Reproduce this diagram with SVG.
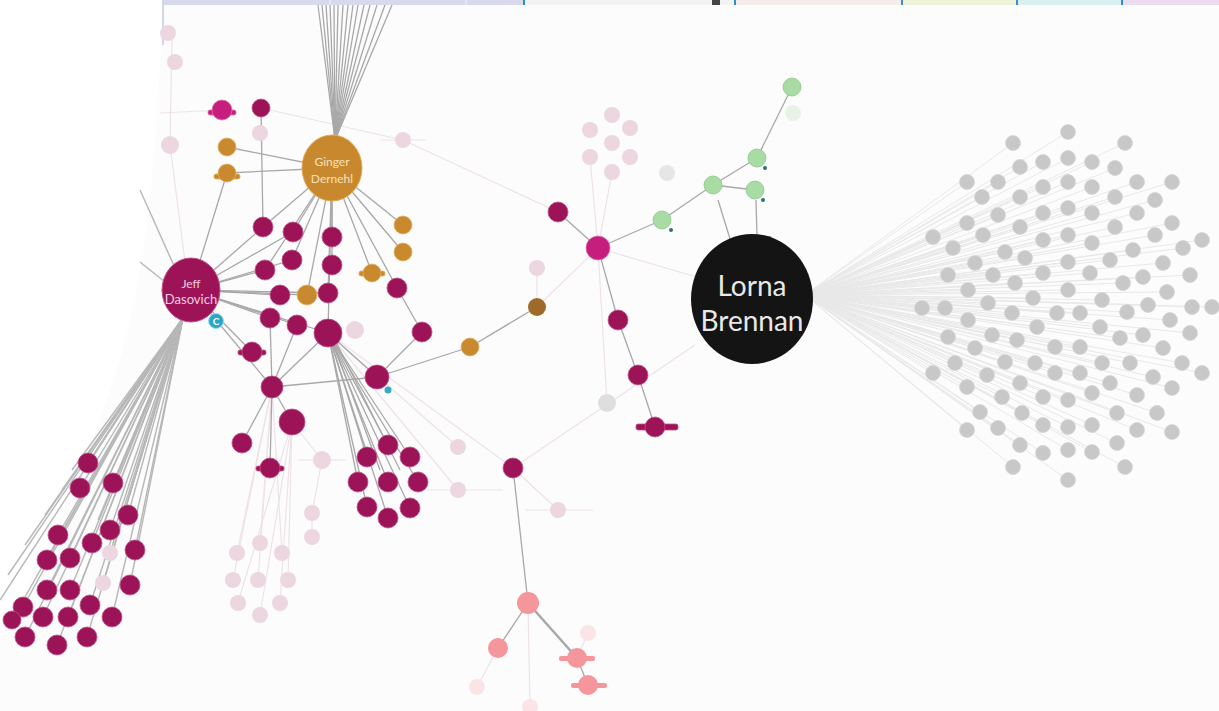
<svg xmlns="http://www.w3.org/2000/svg" width="1219" height="711" viewBox="0 0 1219 711">
<style>
.e{stroke:#a8a8a8;stroke-width:1.3;fill:none}
.el{stroke:#c4c4c4;stroke-width:1;fill:none}
.ef{stroke:#eee2e8;stroke-width:1.2;fill:none}
.eg{stroke:#d2d2d2;stroke-width:1;opacity:.45}
.ej{stroke:#a6a6a6;stroke-width:1.4;opacity:.8}
.m{fill:#9c1457;stroke:#c0508a;stroke-width:.8}
.mg{fill:#c51e7d;stroke:#e070a8;stroke-width:.8}
.o{fill:#c98a2f;stroke:#e0b060;stroke-width:.8}
.p{fill:#ecd6e0}
.pg{fill:#e6e6e6}
.g{fill:#a9dba5;stroke:#8cc888;stroke-width:.8}
.s{fill:#f4969b}
.gr{fill:#c8c8c8;stroke:#d6d6d6;stroke-width:.8}
.t{font-family:Lato,"Liberation Sans",sans-serif;text-anchor:middle}
</style>
<rect x="0" y="0" width="1219" height="711" fill="#fcfcfc"/>
<path d="M0,0 L163,0 C158,120 150,260 120,360 C90,460 40,560 0,640 Z" fill="#ffffff"/>
<g id="topbar">
<rect x="163" y="0" width="360" height="5" fill="#d9d9ec"/>
<rect x="329" y="0" width="2" height="5" fill="#e6e6f2"/>
<rect x="465" y="0" width="2" height="5" fill="#e6e6f2"/>
<rect x="523" y="0" width="2" height="5" fill="#2c8fc9"/>
<rect x="525" y="0" width="209" height="5" fill="#f2f2f2"/>
<rect x="712" y="0" width="8" height="5" fill="#444"/>
<rect x="734" y="0" width="2" height="5" fill="#2c8fc9"/>
<rect x="736" y="0" width="165" height="5" fill="#f6ece9"/>
<rect x="901" y="0" width="2" height="5" fill="#3c8fc0"/>
<rect x="903" y="0" width="113" height="5" fill="#eef3d8"/>
<rect x="1016" y="0" width="2" height="5" fill="#3c8fc0"/>
<rect x="1018" y="0" width="103" height="5" fill="#d8f0ef"/>
<rect x="1121" y="0" width="2" height="5" fill="#2c8fc9"/>
<rect x="1123" y="0" width="96" height="5" fill="#ecdcef"/>
<rect x="162" y="0" width="2" height="45" fill="#d4d4ea"/>
</g>
<g id="connectors">
<g class="eg">
<line x1="805" y1="295" x2="1068" y2="132"/><line x1="805" y1="295" x2="1013" y2="143"/><line x1="805" y1="295" x2="1125" y2="143"/>
<line x1="805" y1="295" x2="1020" y2="167"/><line x1="805" y1="295" x2="1043" y2="162"/><line x1="805" y1="295" x2="1068" y2="158"/><line x1="805" y1="295" x2="1092" y2="162"/><line x1="805" y1="295" x2="1115" y2="168"/>
<line x1="805" y1="295" x2="967" y2="182"/><line x1="805" y1="295" x2="998" y2="182"/><line x1="805" y1="295" x2="1043" y2="187"/><line x1="805" y1="295" x2="1068" y2="182"/><line x1="805" y1="295" x2="1092" y2="187"/><line x1="805" y1="295" x2="1137" y2="182"/><line x1="805" y1="295" x2="1172" y2="182"/>
<line x1="805" y1="295" x2="982" y2="197"/><line x1="805" y1="295" x2="1020" y2="197"/><line x1="805" y1="295" x2="1115" y2="197"/><line x1="805" y1="295" x2="1155" y2="200"/>
<line x1="805" y1="295" x2="998" y2="215"/><line x1="805" y1="295" x2="1043" y2="213"/><line x1="805" y1="295" x2="1068" y2="208"/><line x1="805" y1="295" x2="1092" y2="213"/><line x1="805" y1="295" x2="1137" y2="213"/>
<line x1="805" y1="295" x2="967" y2="223"/><line x1="805" y1="295" x2="1020" y2="227"/><line x1="805" y1="295" x2="1115" y2="227"/><line x1="805" y1="295" x2="1172" y2="223"/>
<line x1="805" y1="295" x2="933" y2="237"/><line x1="805" y1="295" x2="983" y2="235"/><line x1="805" y1="295" x2="1043" y2="240"/><line x1="805" y1="295" x2="1068" y2="235"/><line x1="805" y1="295" x2="1092" y2="243"/><line x1="805" y1="295" x2="1155" y2="235"/><line x1="805" y1="295" x2="1202" y2="240"/>
<line x1="805" y1="295" x2="953" y2="248"/><line x1="805" y1="295" x2="1005" y2="252"/><line x1="805" y1="295" x2="1025" y2="258"/><line x1="805" y1="295" x2="1133" y2="250"/><line x1="805" y1="295" x2="1183" y2="248"/>
<line x1="805" y1="295" x2="975" y2="263"/><line x1="805" y1="295" x2="1068" y2="262"/><line x1="805" y1="295" x2="1110" y2="260"/><line x1="805" y1="295" x2="1163" y2="263"/>
<line x1="805" y1="295" x2="948" y2="275"/><line x1="805" y1="295" x2="993" y2="275"/><line x1="805" y1="295" x2="1043" y2="273"/><line x1="805" y1="295" x2="1090" y2="273"/><line x1="805" y1="295" x2="1143" y2="277"/><line x1="805" y1="295" x2="1190" y2="275"/>
<line x1="805" y1="295" x2="968" y2="290"/><line x1="805" y1="295" x2="1015" y2="283"/><line x1="805" y1="295" x2="1068" y2="290"/><line x1="805" y1="295" x2="1123" y2="283"/><line x1="805" y1="295" x2="1167" y2="292"/>
<line x1="805" y1="295" x2="1033" y2="298"/><line x1="805" y1="295" x2="1102" y2="300"/>
<line x1="805" y1="295" x2="922" y2="308"/><line x1="805" y1="295" x2="945" y2="308"/><line x1="805" y1="295" x2="988" y2="303"/><line x1="805" y1="295" x2="1012" y2="313"/><line x1="805" y1="295" x2="1057" y2="313"/><line x1="805" y1="295" x2="1080" y2="313"/><line x1="805" y1="295" x2="1127" y2="312"/><line x1="805" y1="295" x2="1148" y2="305"/><line x1="805" y1="295" x2="1192" y2="307"/><line x1="805" y1="295" x2="1212" y2="307"/>
<line x1="805" y1="295" x2="968" y2="320"/><line x1="805" y1="295" x2="1037" y2="327"/><line x1="805" y1="295" x2="1100" y2="327"/><line x1="805" y1="295" x2="1170" y2="320"/>
<line x1="805" y1="295" x2="948" y2="337"/><line x1="805" y1="295" x2="992" y2="335"/><line x1="805" y1="295" x2="1017" y2="340"/><line x1="805" y1="295" x2="1055" y2="347"/><line x1="805" y1="295" x2="1080" y2="347"/><line x1="805" y1="295" x2="1120" y2="338"/><line x1="805" y1="295" x2="1143" y2="335"/><line x1="805" y1="295" x2="1190" y2="333"/>
<line x1="805" y1="295" x2="975" y2="348"/><line x1="805" y1="295" x2="1163" y2="348"/>
<line x1="805" y1="295" x2="955" y2="363"/><line x1="805" y1="295" x2="1005" y2="362"/><line x1="805" y1="295" x2="1035" y2="363"/><line x1="805" y1="295" x2="1102" y2="363"/><line x1="805" y1="295" x2="1130" y2="363"/><line x1="805" y1="295" x2="1182" y2="363"/>
<line x1="805" y1="295" x2="933" y2="373"/><line x1="805" y1="295" x2="987" y2="375"/><line x1="805" y1="295" x2="1055" y2="373"/><line x1="805" y1="295" x2="1080" y2="373"/><line x1="805" y1="295" x2="1153" y2="377"/><line x1="805" y1="295" x2="1202" y2="373"/>
<line x1="805" y1="295" x2="967" y2="387"/><line x1="805" y1="295" x2="1020" y2="383"/><line x1="805" y1="295" x2="1110" y2="383"/><line x1="805" y1="295" x2="1172" y2="388"/>
<line x1="805" y1="295" x2="1002" y2="397"/><line x1="805" y1="295" x2="1043" y2="397"/><line x1="805" y1="295" x2="1068" y2="400"/><line x1="805" y1="295" x2="1092" y2="393"/><line x1="805" y1="295" x2="1137" y2="395"/>
<line x1="805" y1="295" x2="980" y2="412"/><line x1="805" y1="295" x2="1022" y2="413"/><line x1="805" y1="295" x2="1117" y2="413"/><line x1="805" y1="295" x2="1157" y2="413"/>
<line x1="805" y1="295" x2="967" y2="430"/><line x1="805" y1="295" x2="998" y2="428"/><line x1="805" y1="295" x2="1043" y2="425"/><line x1="805" y1="295" x2="1068" y2="427"/><line x1="805" y1="295" x2="1092" y2="425"/><line x1="805" y1="295" x2="1137" y2="430"/><line x1="805" y1="295" x2="1172" y2="432"/>
<line x1="805" y1="295" x2="1020" y2="445"/><line x1="805" y1="295" x2="1043" y2="453"/><line x1="805" y1="295" x2="1068" y2="450"/><line x1="805" y1="295" x2="1092" y2="452"/><line x1="805" y1="295" x2="1117" y2="443"/>
<line x1="805" y1="295" x2="1013" y2="467"/><line x1="805" y1="295" x2="1125" y2="467"/><line x1="805" y1="295" x2="1068" y2="480"/>
</g>
<g class="ef">
<line x1="160" y1="113" x2="222" y2="110"/>
<line x1="261" y1="108" x2="403" y2="140"/>
<line x1="403" y1="140" x2="558" y2="212"/>
<line x1="172" y1="40" x2="170" y2="145"/>
<line x1="170" y1="145" x2="185" y2="262"/>
<line x1="598" y1="248" x2="590" y2="157"/>
<line x1="598" y1="248" x2="612" y2="172"/>
<line x1="598" y1="248" x2="700" y2="278"/>
<line x1="598" y1="248" x2="537" y2="307"/>
<line x1="537" y1="307" x2="537" y2="268"/>
<line x1="513" y1="468" x2="695" y2="345"/>
<line x1="513" y1="468" x2="558" y2="510"/>
<line x1="525" y1="510" x2="593" y2="510"/>
<line x1="427" y1="490" x2="503" y2="490"/>
<line x1="328" y1="333" x2="513" y2="468"/>
<line x1="328" y1="333" x2="458" y2="447"/>
<line x1="328" y1="333" x2="458" y2="490"/>
<line x1="528" y1="603" x2="530" y2="707"/>
<line x1="498" y1="648" x2="477" y2="687"/>
<line x1="577" y1="658" x2="588" y2="633"/>
<line x1="272" y1="387" x2="237" y2="553"/><line x1="272" y1="387" x2="260" y2="543"/><line x1="272" y1="387" x2="282" y2="553"/>
<line x1="272" y1="387" x2="233" y2="580"/><line x1="272" y1="387" x2="258" y2="580"/><line x1="292" y1="422" x2="288" y2="580"/>
<line x1="292" y1="422" x2="238" y2="603"/><line x1="292" y1="422" x2="260" y2="615"/><line x1="292" y1="422" x2="280" y2="603"/>
<line x1="292" y1="422" x2="322" y2="460"/><line x1="322" y1="460" x2="312" y2="513"/><line x1="312" y1="513" x2="312" y2="537"/>
<line x1="298" y1="460" x2="346" y2="460"/>
<line x1="380" y1="140" x2="426" y2="140"/>
<line x1="607" y1="403" x2="598" y2="248"/>
</g>
<g class="e">
<line x1="335" y1="140" x2="318" y2="5"/><line x1="335" y1="140" x2="322" y2="5"/><line x1="335" y1="140" x2="326" y2="5"/><line x1="335" y1="140" x2="330" y2="5"/><line x1="335" y1="140" x2="334" y2="5"/><line x1="335" y1="140" x2="338" y2="5"/><line x1="335" y1="140" x2="343" y2="5"/><line x1="335" y1="140" x2="348" y2="5"/><line x1="335" y1="140" x2="353" y2="5"/><line x1="335" y1="140" x2="358" y2="5"/><line x1="335" y1="140" x2="364" y2="5"/><line x1="335" y1="140" x2="370" y2="5"/><line x1="335" y1="140" x2="377" y2="5"/><line x1="335" y1="140" x2="385" y2="5"/><line x1="335" y1="140" x2="392" y2="5"/>
</g>
<g class="ej">
<line x1="183" y1="318" x2="88" y2="463"/><line x1="183" y1="318" x2="80" y2="488"/><line x1="183" y1="318" x2="113" y2="483"/><line x1="183" y1="318" x2="128" y2="515"/><line x1="183" y1="318" x2="110" y2="530"/><line x1="183" y1="318" x2="92" y2="543"/><line x1="183" y1="318" x2="58" y2="535"/><line x1="183" y1="318" x2="135" y2="550"/><line x1="183" y1="318" x2="70" y2="558"/><line x1="183" y1="318" x2="47" y2="560"/><line x1="183" y1="318" x2="47" y2="590"/><line x1="183" y1="318" x2="70" y2="590"/><line x1="183" y1="318" x2="130" y2="585"/><line x1="183" y1="318" x2="23" y2="607"/><line x1="183" y1="318" x2="43" y2="617"/><line x1="183" y1="318" x2="68" y2="617"/><line x1="183" y1="318" x2="90" y2="605"/><line x1="183" y1="318" x2="112" y2="617"/><line x1="183" y1="318" x2="25" y2="637"/><line x1="183" y1="318" x2="57" y2="645"/><line x1="183" y1="318" x2="87" y2="637"/><line x1="183" y1="318" x2="12" y2="620"/>
<line x1="183" y1="318" x2="0" y2="600"/><line x1="183" y1="318" x2="8" y2="575"/><line x1="183" y1="318" x2="25" y2="545"/><line x1="183" y1="318" x2="45" y2="515"/><line x1="183" y1="318" x2="103" y2="583"/><line x1="183" y1="318" x2="110" y2="553"/><line x1="183" y1="318" x2="98" y2="520"/><line x1="183" y1="318" x2="62" y2="490"/><line x1="183" y1="318" x2="72" y2="470"/><line x1="183" y1="318" x2="100" y2="445"/><line x1="183" y1="318" x2="120" y2="470"/>
<line x1="175" y1="268" x2="140" y2="190"/><line x1="165" y1="282" x2="140" y2="262"/>
</g>
<g class="e">
<line x1="332" y1="168" x2="227" y2="147"/><line x1="332" y1="168" x2="227" y2="173"/>
<line x1="332" y1="168" x2="293" y2="232"/><line x1="332" y1="168" x2="332" y2="237"/><line x1="332" y1="168" x2="292" y2="260"/><line x1="332" y1="168" x2="332" y2="265"/><line x1="332" y1="168" x2="372" y2="273"/><line x1="332" y1="168" x2="403" y2="225"/><line x1="332" y1="168" x2="403" y2="252"/><line x1="332" y1="168" x2="397" y2="288"/><line x1="332" y1="168" x2="328" y2="293"/><line x1="332" y1="168" x2="307" y2="295"/><line x1="332" y1="168" x2="265" y2="270"/><line x1="332" y1="168" x2="328" y2="333"/><line x1="332" y1="168" x2="263" y2="227"/>
<line x1="191" y1="290" x2="263" y2="227"/><line x1="191" y1="290" x2="293" y2="232"/><line x1="191" y1="290" x2="265" y2="270"/><line x1="191" y1="290" x2="292" y2="260"/><line x1="191" y1="290" x2="280" y2="295"/><line x1="191" y1="290" x2="307" y2="295"/><line x1="191" y1="290" x2="328" y2="293"/><line x1="191" y1="290" x2="270" y2="318"/><line x1="191" y1="290" x2="297" y2="325"/><line x1="191" y1="290" x2="328" y2="333"/><line x1="191" y1="290" x2="252" y2="352"/><line x1="191" y1="290" x2="272" y2="387"/><line x1="191" y1="290" x2="227" y2="173"/>
<line x1="261" y1="108" x2="263" y2="227"/>
<line x1="270" y1="318" x2="272" y2="387"/><line x1="297" y1="325" x2="272" y2="387"/><line x1="328" y1="333" x2="272" y2="387"/><line x1="328" y1="333" x2="377" y2="377"/><line x1="272" y1="387" x2="377" y2="377"/>
<line x1="272" y1="387" x2="242" y2="443"/><line x1="272" y1="387" x2="270" y2="468"/><line x1="272" y1="387" x2="292" y2="422"/>
<line x1="328" y1="333" x2="388" y2="445"/><line x1="328" y1="333" x2="367" y2="457"/><line x1="328" y1="333" x2="410" y2="457"/><line x1="328" y1="333" x2="358" y2="482"/><line x1="328" y1="333" x2="388" y2="482"/><line x1="328" y1="333" x2="418" y2="482"/><line x1="328" y1="333" x2="367" y2="507"/><line x1="328" y1="333" x2="388" y2="518"/><line x1="328" y1="333" x2="410" y2="508"/><line x1="335" y1="340" x2="400" y2="470"/><line x1="332" y1="340" x2="380" y2="470"/>
<line x1="377" y1="377" x2="422" y2="332"/><line x1="422" y1="332" x2="397" y2="288"/>
<line x1="377" y1="377" x2="470" y2="347"/><line x1="470" y1="347" x2="537" y2="307"/>
<line x1="598" y1="248" x2="558" y2="212"/><line x1="598" y1="248" x2="662" y2="220"/><line x1="662" y1="220" x2="713" y2="185"/><line x1="713" y1="185" x2="757" y2="158"/><line x1="757" y1="158" x2="792" y2="87"/><line x1="713" y1="185" x2="755" y2="190"/><line x1="718" y1="200" x2="731" y2="242"/><line x1="756" y1="200" x2="757" y2="237"/>
<line x1="598" y1="248" x2="618" y2="320"/><line x1="618" y1="320" x2="638" y2="375"/><line x1="638" y1="375" x2="655" y2="427"/>
<line x1="513" y1="468" x2="528" y2="603"/><line x1="528" y1="603" x2="498" y2="648"/><line x1="528" y1="603" x2="577" y2="658" stroke-width="2.5"/><line x1="577" y1="658" x2="588" y2="685"/>
</g>
</g>
<g id="grayCluster">
<g id="gn1"><circle class="gr" cx="1068" cy="132" r="7.5"/></g>
<g id="gn2"><circle class="gr" cx="1013" cy="143" r="7.5"/></g><g id="gn3"><circle class="gr" cx="1125" cy="143" r="7.5"/></g>
<g id="gn4"><circle class="gr" cx="1020" cy="167" r="7.5"/></g><g id="gn5"><circle class="gr" cx="1043" cy="162" r="7.5"/></g><g id="gn6"><circle class="gr" cx="1068" cy="158" r="7.5"/></g><g id="gn7"><circle class="gr" cx="1092" cy="162" r="7.5"/></g><g id="gn8"><circle class="gr" cx="1115" cy="168" r="7.5"/></g>
<g id="gn9"><circle class="gr" cx="967" cy="182" r="7.5"/></g><g id="gn10"><circle class="gr" cx="998" cy="182" r="7.5"/></g><g id="gn11"><circle class="gr" cx="1043" cy="187" r="7.5"/></g><g id="gn12"><circle class="gr" cx="1068" cy="182" r="7.5"/></g><g id="gn13"><circle class="gr" cx="1092" cy="187" r="7.5"/></g><g id="gn14"><circle class="gr" cx="1137" cy="182" r="7.5"/></g><g id="gn15"><circle class="gr" cx="1172" cy="182" r="7.5"/></g>
<g id="gn16"><circle class="gr" cx="982" cy="197" r="7.5"/></g><g id="gn17"><circle class="gr" cx="1020" cy="197" r="7.5"/></g><g id="gn18"><circle class="gr" cx="1115" cy="197" r="7.5"/></g><g id="gn19"><circle class="gr" cx="1155" cy="200" r="7.5"/></g>
<g id="gn20"><circle class="gr" cx="998" cy="215" r="7.5"/></g><g id="gn21"><circle class="gr" cx="1043" cy="213" r="7.5"/></g><g id="gn22"><circle class="gr" cx="1068" cy="208" r="7.5"/></g><g id="gn23"><circle class="gr" cx="1092" cy="213" r="7.5"/></g><g id="gn24"><circle class="gr" cx="1137" cy="213" r="7.5"/></g>
<g id="gn25"><circle class="gr" cx="967" cy="223" r="7.5"/></g><g id="gn26"><circle class="gr" cx="1020" cy="227" r="7.5"/></g><g id="gn27"><circle class="gr" cx="1115" cy="227" r="7.5"/></g><g id="gn28"><circle class="gr" cx="1172" cy="223" r="7.5"/></g>
<g id="gn29"><circle class="gr" cx="933" cy="237" r="7.5"/></g><g id="gn30"><circle class="gr" cx="983" cy="235" r="7.5"/></g><g id="gn31"><circle class="gr" cx="1043" cy="240" r="7.5"/></g><g id="gn32"><circle class="gr" cx="1068" cy="235" r="7.5"/></g><g id="gn33"><circle class="gr" cx="1092" cy="243" r="7.5"/></g><g id="gn34"><circle class="gr" cx="1155" cy="235" r="7.5"/></g><g id="gn35"><circle class="gr" cx="1202" cy="240" r="7.5"/></g>
<g id="gn36"><circle class="gr" cx="953" cy="248" r="7.5"/></g><g id="gn37"><circle class="gr" cx="1005" cy="252" r="7.5"/></g><g id="gn38"><circle class="gr" cx="1025" cy="258" r="7.5"/></g><g id="gn39"><circle class="gr" cx="1133" cy="250" r="7.5"/></g><g id="gn40"><circle class="gr" cx="1183" cy="248" r="7.5"/></g>
<g id="gn41"><circle class="gr" cx="975" cy="263" r="7.5"/></g><g id="gn42"><circle class="gr" cx="1068" cy="262" r="7.5"/></g><g id="gn43"><circle class="gr" cx="1110" cy="260" r="7.5"/></g><g id="gn44"><circle class="gr" cx="1163" cy="263" r="7.5"/></g>
<g id="gn45"><circle class="gr" cx="948" cy="275" r="7.5"/></g><g id="gn46"><circle class="gr" cx="993" cy="275" r="7.5"/></g><g id="gn47"><circle class="gr" cx="1043" cy="273" r="7.5"/></g><g id="gn48"><circle class="gr" cx="1090" cy="273" r="7.5"/></g><g id="gn49"><circle class="gr" cx="1143" cy="277" r="7.5"/></g><g id="gn50"><circle class="gr" cx="1190" cy="275" r="7.5"/></g>
<g id="gn51"><circle class="gr" cx="968" cy="290" r="7.5"/></g><g id="gn52"><circle class="gr" cx="1015" cy="283" r="7.5"/></g><g id="gn53"><circle class="gr" cx="1068" cy="290" r="7.5"/></g><g id="gn54"><circle class="gr" cx="1123" cy="283" r="7.5"/></g><g id="gn55"><circle class="gr" cx="1167" cy="292" r="7.5"/></g>
<g id="gn56"><circle class="gr" cx="1033" cy="298" r="7.5"/></g><g id="gn57"><circle class="gr" cx="1102" cy="300" r="7.5"/></g>
<g id="gn58"><circle class="gr" cx="922" cy="308" r="7.5"/></g><g id="gn59"><circle class="gr" cx="945" cy="308" r="7.5"/></g><g id="gn60"><circle class="gr" cx="988" cy="303" r="7.5"/></g><g id="gn61"><circle class="gr" cx="1012" cy="313" r="7.5"/></g><g id="gn62"><circle class="gr" cx="1057" cy="313" r="7.5"/></g><g id="gn63"><circle class="gr" cx="1080" cy="313" r="7.5"/></g><g id="gn64"><circle class="gr" cx="1127" cy="312" r="7.5"/></g><g id="gn65"><circle class="gr" cx="1148" cy="305" r="7.5"/></g><g id="gn66"><circle class="gr" cx="1192" cy="307" r="7.5"/></g><g id="gn67"><circle class="gr" cx="1212" cy="307" r="7.5"/></g>
<g id="gn68"><circle class="gr" cx="968" cy="320" r="7.5"/></g><g id="gn69"><circle class="gr" cx="1037" cy="327" r="7.5"/></g><g id="gn70"><circle class="gr" cx="1100" cy="327" r="7.5"/></g><g id="gn71"><circle class="gr" cx="1170" cy="320" r="7.5"/></g>
<g id="gn72"><circle class="gr" cx="948" cy="337" r="7.5"/></g><g id="gn73"><circle class="gr" cx="992" cy="335" r="7.5"/></g><g id="gn74"><circle class="gr" cx="1017" cy="340" r="7.5"/></g><g id="gn75"><circle class="gr" cx="1055" cy="347" r="7.5"/></g><g id="gn76"><circle class="gr" cx="1080" cy="347" r="7.5"/></g><g id="gn77"><circle class="gr" cx="1120" cy="338" r="7.5"/></g><g id="gn78"><circle class="gr" cx="1143" cy="335" r="7.5"/></g><g id="gn79"><circle class="gr" cx="1190" cy="333" r="7.5"/></g>
<g id="gn80"><circle class="gr" cx="975" cy="348" r="7.5"/></g><g id="gn81"><circle class="gr" cx="1163" cy="348" r="7.5"/></g>
<g id="gn82"><circle class="gr" cx="955" cy="363" r="7.5"/></g><g id="gn83"><circle class="gr" cx="1005" cy="362" r="7.5"/></g><g id="gn84"><circle class="gr" cx="1035" cy="363" r="7.5"/></g><g id="gn85"><circle class="gr" cx="1102" cy="363" r="7.5"/></g><g id="gn86"><circle class="gr" cx="1130" cy="363" r="7.5"/></g><g id="gn87"><circle class="gr" cx="1182" cy="363" r="7.5"/></g>
<g id="gn88"><circle class="gr" cx="933" cy="373" r="7.5"/></g><g id="gn89"><circle class="gr" cx="987" cy="375" r="7.5"/></g><g id="gn90"><circle class="gr" cx="1055" cy="373" r="7.5"/></g><g id="gn91"><circle class="gr" cx="1080" cy="373" r="7.5"/></g><g id="gn92"><circle class="gr" cx="1153" cy="377" r="7.5"/></g><g id="gn93"><circle class="gr" cx="1202" cy="373" r="7.5"/></g>
<g id="gn94"><circle class="gr" cx="967" cy="387" r="7.5"/></g><g id="gn95"><circle class="gr" cx="1020" cy="383" r="7.5"/></g><g id="gn96"><circle class="gr" cx="1110" cy="383" r="7.5"/></g><g id="gn97"><circle class="gr" cx="1172" cy="388" r="7.5"/></g>
<g id="gn98"><circle class="gr" cx="1002" cy="397" r="7.5"/></g><g id="gn99"><circle class="gr" cx="1043" cy="397" r="7.5"/></g><g id="gn100"><circle class="gr" cx="1068" cy="400" r="7.5"/></g><g id="gn101"><circle class="gr" cx="1092" cy="393" r="7.5"/></g><g id="gn102"><circle class="gr" cx="1137" cy="395" r="7.5"/></g>
<g id="gn103"><circle class="gr" cx="980" cy="412" r="7.5"/></g><g id="gn104"><circle class="gr" cx="1022" cy="413" r="7.5"/></g><g id="gn105"><circle class="gr" cx="1117" cy="413" r="7.5"/></g><g id="gn106"><circle class="gr" cx="1157" cy="413" r="7.5"/></g>
<g id="gn107"><circle class="gr" cx="967" cy="430" r="7.5"/></g><g id="gn108"><circle class="gr" cx="998" cy="428" r="7.5"/></g><g id="gn109"><circle class="gr" cx="1043" cy="425" r="7.5"/></g><g id="gn110"><circle class="gr" cx="1068" cy="427" r="7.5"/></g><g id="gn111"><circle class="gr" cx="1092" cy="425" r="7.5"/></g><g id="gn112"><circle class="gr" cx="1137" cy="430" r="7.5"/></g><g id="gn113"><circle class="gr" cx="1172" cy="432" r="7.5"/></g>
<g id="gn114"><circle class="gr" cx="1020" cy="445" r="7.5"/></g><g id="gn115"><circle class="gr" cx="1043" cy="453" r="7.5"/></g><g id="gn116"><circle class="gr" cx="1068" cy="450" r="7.5"/></g><g id="gn117"><circle class="gr" cx="1092" cy="452" r="7.5"/></g><g id="gn118"><circle class="gr" cx="1117" cy="443" r="7.5"/></g>
<g id="gn119"><circle class="gr" cx="1013" cy="467" r="7.5"/></g><g id="gn120"><circle class="gr" cx="1125" cy="467" r="7.5"/></g><g id="gn121"><circle class="gr" cx="1068" cy="480" r="7.5"/></g>
</g>
<g id="faintNodes">
<g id="f1"><circle class="p" cx="168" cy="33" r="8"/></g>
<g id="f2"><circle class="p" cx="175" cy="62" r="8"/></g>
<g id="f3"><circle class="p" cx="170" cy="145" r="9"/></g>
<g id="f4"><circle class="p" cx="260" cy="133" r="8"/></g>
<g id="f5"><circle class="p" cx="403" cy="140" r="8"/></g>
<g id="f6"><circle class="p" cx="355" cy="330" r="9"/></g>
<g id="f7"><circle class="p" cx="612" cy="115" r="8"/></g><g id="f8"><circle class="p" cx="590" cy="130" r="8"/></g><g id="f9"><circle class="p" cx="630" cy="128" r="8"/></g><g id="f10"><circle class="p" cx="612" cy="143" r="8"/></g><g id="f11"><circle class="p" cx="590" cy="157" r="8"/></g><g id="f12"><circle class="p" cx="630" cy="157" r="8"/></g><g id="f13"><circle class="p" cx="612" cy="172" r="8"/></g>
<g id="f14"><circle class="p" cx="537" cy="268" r="8"/></g>
<g id="f15"><circle class="pg" cx="667" cy="173" r="8"/></g>
<g id="f16"><circle fill="#e8f2e6" cx="793" cy="113" r="8"/></g>
<g id="f17"><circle fill="#dedede" cx="607" cy="403" r="9"/></g>
<g id="f18"><circle class="p" cx="458" cy="447" r="8"/></g>
<g id="f19"><circle class="p" cx="458" cy="490" r="8"/></g>
<g id="f20"><circle class="p" cx="558" cy="510" r="8"/></g>
<g id="f21"><circle class="p" cx="322" cy="460" r="9"/></g>
<g id="f22"><circle class="p" cx="312" cy="513" r="8"/></g><g id="f23"><circle class="p" cx="312" cy="537" r="8"/></g>
<g id="f24"><circle class="p" cx="237" cy="553" r="8"/></g><g id="f25"><circle class="p" cx="260" cy="543" r="8"/></g><g id="f26"><circle class="p" cx="282" cy="553" r="8"/></g><g id="f27"><circle class="p" cx="233" cy="580" r="8"/></g><g id="f28"><circle class="p" cx="258" cy="580" r="8"/></g><g id="f29"><circle class="p" cx="288" cy="580" r="8"/></g><g id="f30"><circle class="p" cx="238" cy="603" r="8"/></g><g id="f31"><circle class="p" cx="260" cy="615" r="8"/></g><g id="f32"><circle class="p" cx="280" cy="603" r="8"/></g>
<g id="f33"><circle class="p" cx="110" cy="553" r="8"/></g><g id="f34"><circle class="p" cx="103" cy="583" r="8"/></g>
<g id="f35"><circle fill="#fbe4e6" cx="588" cy="633" r="8"/></g>
<g id="f36"><circle fill="#fbe4e6" cx="477" cy="687" r="8"/></g>
<g id="f37"><circle fill="#fbe4e6" cx="530" cy="707" r="8"/></g>
</g>
<g id="maroonNodes">
<g id="m1"><circle class="m" cx="261" cy="108" r="9"/></g>
<g id="m2"><circle class="m" cx="263" cy="227" r="10"/></g>
<g id="m3"><circle class="m" cx="293" cy="232" r="10"/></g>
<g id="m4"><circle class="m" cx="332" cy="237" r="10"/></g>
<g id="m5"><circle class="m" cx="265" cy="270" r="10"/></g>
<g id="m6"><circle class="m" cx="292" cy="260" r="10"/></g>
<g id="m7"><circle class="m" cx="332" cy="265" r="10"/></g>
<g id="m8"><circle class="m" cx="397" cy="288" r="10"/></g>
<g id="m9"><circle class="m" cx="280" cy="295" r="10"/></g>
<g id="m10"><circle class="m" cx="328" cy="293" r="10"/></g>
<g id="m11"><circle class="m" cx="270" cy="318" r="10"/></g>
<g id="m12"><circle class="m" cx="297" cy="325" r="10"/></g>
<g id="m13"><circle class="m" cx="328" cy="333" r="14"/></g>
<g id="m14"><circle class="m" cx="422" cy="332" r="10"/></g>
<g id="m15"><rect class="m" x="238" y="350" width="28" height="5" rx="2"/><circle class="m" cx="252" cy="352" r="10"/></g>
<g id="m16"><circle class="m" cx="272" cy="387" r="11"/></g>
<g id="m17"><circle class="m" cx="377" cy="377" r="12"/><circle cx="388" cy="390" r="3.5" fill="#3aa9c6"/></g>
<g id="m18"><circle class="m" cx="292" cy="422" r="13"/></g>
<g id="m19"><circle class="m" cx="242" cy="443" r="10"/></g>
<g id="m20"><rect class="m" x="256" y="466" width="28" height="5" rx="2"/><circle class="m" cx="270" cy="468" r="10"/></g>
<g id="m21"><circle class="m" cx="388" cy="445" r="10"/></g>
<g id="m22"><circle class="m" cx="367" cy="457" r="10"/></g>
<g id="m23"><circle class="m" cx="410" cy="457" r="10"/></g>
<g id="m24"><circle class="m" cx="358" cy="482" r="10"/></g>
<g id="m25"><circle class="m" cx="388" cy="482" r="10"/></g>
<g id="m26"><circle class="m" cx="418" cy="482" r="10"/></g>
<g id="m27"><circle class="m" cx="367" cy="507" r="10"/></g>
<g id="m28"><circle class="m" cx="388" cy="518" r="10"/></g>
<g id="m29"><circle class="m" cx="410" cy="508" r="10"/></g>
<g id="m30"><circle class="m" cx="558" cy="212" r="10"/></g>
<g id="m31"><circle class="m" cx="618" cy="320" r="10"/></g>
<g id="m32"><circle class="m" cx="638" cy="375" r="10"/></g>
<g id="m33"><rect class="m" x="636" y="424" width="42" height="6" rx="2"/><circle class="m" cx="655" cy="427" r="10"/></g>
<g id="m34"><circle class="m" cx="513" cy="468" r="10"/></g>
<g id="b1"><circle class="m" cx="88" cy="463" r="10"/></g>
<g id="b2"><circle class="m" cx="80" cy="488" r="10"/></g>
<g id="b3"><circle class="m" cx="113" cy="483" r="10"/></g>
<g id="b4"><circle class="m" cx="128" cy="515" r="10"/></g>
<g id="b5"><circle class="m" cx="110" cy="530" r="10"/></g>
<g id="b6"><circle class="m" cx="92" cy="543" r="10"/></g>
<g id="b7"><circle class="m" cx="58" cy="535" r="10"/></g>
<g id="b8"><circle class="m" cx="135" cy="550" r="10"/></g>
<g id="b9"><circle class="m" cx="70" cy="558" r="10"/></g>
<g id="b10"><circle class="m" cx="47" cy="560" r="10"/></g>
<g id="b11"><circle class="m" cx="47" cy="590" r="10"/></g>
<g id="b12"><circle class="m" cx="70" cy="590" r="10"/></g>
<g id="b13"><circle class="m" cx="130" cy="585" r="10"/></g>
<g id="b14"><circle class="m" cx="23" cy="607" r="10"/></g>
<g id="b15"><circle class="m" cx="43" cy="617" r="10"/></g>
<g id="b16"><circle class="m" cx="68" cy="617" r="10"/></g>
<g id="b17"><circle class="m" cx="90" cy="605" r="10"/></g>
<g id="b18"><circle class="m" cx="112" cy="617" r="10"/></g>
<g id="b19"><circle class="m" cx="25" cy="637" r="10"/></g>
<g id="b20"><circle class="m" cx="57" cy="645" r="10"/></g>
<g id="b21"><circle class="m" cx="87" cy="637" r="10"/></g>
<g id="b22"><circle class="m" cx="12" cy="620" r="9"/></g>
</g>
<g id="magentaNodes">
<g id="mg1"><rect class="mg" x="208" y="110" width="28" height="5" rx="2"/><circle class="mg" cx="222" cy="110" r="10"/></g>
<g id="mg2"><circle class="mg" cx="598" cy="248" r="12"/></g>
</g>
<g id="ochreNodes">
<g id="o1"><circle class="o" cx="227" cy="147" r="9"/></g>
<g id="o2"><rect class="o" x="214" y="174" width="26" height="5" rx="2"/><circle class="o" cx="227" cy="173" r="9"/></g>
<g id="o3"><circle class="o" cx="403" cy="225" r="9"/></g>
<g id="o4"><circle class="o" cx="403" cy="252" r="9"/></g>
<g id="o5"><rect class="o" x="359" y="271" width="26" height="5" rx="2"/><circle class="o" cx="372" cy="273" r="9"/></g>
<g id="o6"><circle class="o" cx="307" cy="295" r="10"/></g>
<g id="o7"><circle class="o" cx="470" cy="347" r="9"/></g>
<g id="o8"><circle fill="#9e6a2a" cx="537" cy="307" r="9"/></g>
</g>
<g id="greenNodes">
<g id="g1"><circle class="g" cx="662" cy="220" r="9"/><circle cx="671" cy="230" r="2" fill="#2d6f7a"/></g>
<g id="g2"><circle class="g" cx="713" cy="185" r="9"/></g>
<g id="g3"><circle class="g" cx="757" cy="158" r="9"/><circle cx="765" cy="168" r="2" fill="#2d6f7a"/></g>
<g id="g4"><circle class="g" cx="755" cy="190" r="9"/><circle cx="763" cy="200" r="2" fill="#2d6f7a"/></g>
<g id="g5"><circle class="g" cx="792" cy="87" r="9"/></g>
</g>
<g id="salmonNodes">
<g id="s1"><circle class="s" cx="528" cy="603" r="11"/></g>
<g id="s2"><circle class="s" cx="498" cy="648" r="10"/></g>
<g id="s3"><rect class="s" x="559" y="656" width="36" height="5" rx="2"/><circle class="s" cx="577" cy="658" r="10"/></g>
<g id="s4"><rect class="s" x="571" y="683" width="36" height="5" rx="2"/><circle class="s" cx="588" cy="685" r="10"/></g>
</g>
<g id="jeff">
<ellipse cx="191" cy="290" rx="29" ry="32" fill="#9c1457" stroke="#c0508a" stroke-width="1"/>
<text class="t" x="191" y="288" font-size="12" fill="#f6cde0">Jeff</text>
<text class="t" x="191" y="304" font-size="13" fill="#f6cde0">Dasovich</text>
</g>
<g id="badgeC">
<circle cx="216" cy="321" r="7.5" fill="#2ba5c7" stroke="#9fdcec" stroke-width="1"/>
<text class="t" x="216" y="325" font-size="10" font-weight="bold" fill="#ffffff">C</text>
</g>
<g id="ginger">
<ellipse cx="332" cy="168" rx="30" ry="33" fill="#c8892e" stroke="#e0aa55" stroke-width="1"/>
<text class="t" x="332" y="166" font-size="12" fill="#f8e0b8">Ginger</text>
<text class="t" x="332" y="183" font-size="12" fill="#f8e0b8">Dernehl</text>
</g>
<g id="lorna">
<ellipse cx="752" cy="299" rx="61" ry="65" fill="#141414"/>
<text class="t" x="752" y="296" font-size="28" fill="#e8e8e8">Lorna</text>
<text class="t" x="752" y="331" font-size="28" fill="#e8e8e8">Brennan</text>
</g>
</svg>
